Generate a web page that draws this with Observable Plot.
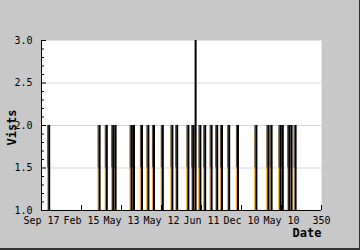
<!DOCTYPE html>
<html>
<head>
<meta charset="utf-8">
<script src="https://cdn.jsdelivr.net/npm/d3@7"></script>
<script src="https://cdn.jsdelivr.net/npm/@observablehq/plot@0.6"></script>
<style>
  html, body { margin: 0; padding: 0; background: #c8c8c8; }
  #chart { width: 360px; height: 250px; position: relative; box-sizing: border-box; border-right: 1px solid #333; border-bottom: 2px solid #333; overflow: hidden; }
</style>
</head>
<body>
<div id="chart"></div>
<script>
const spikeDays   = [9, 72, 81, 89, 92, 112, 115, 125, 133, 140, 151, 163, 169, 183, 189, 192, 198, 204, 212, 219, 225, 234, 245, 268, 283, 287, 298, 301, 309, 312, 317];
const spikeVisits = [2, 2, 2, 2, 2, 2, 2, 2, 2, 2, 2, 2, 2, 2, 2, 3, 2, 2, 2, 2, 2, 2, 2, 2, 2, 2, 2, 2, 2, 2, 2];
const xTicks = [0, 50, 100, 150, 200, 250, 300, 350];
const xTickLabels = ["Sep 17", "Feb 15", "May 13", "May 12", "Jun 11", "Dec 10", "May 10", "350"];
const yTicks = [1.0, 1.5, 2.0, 2.5, 3.0];
const yMinorTicks = [1.1, 1.2, 1.3, 1.4, 1.6, 1.7, 1.8, 1.9, 2.1, 2.2, 2.3, 2.4, 2.6, 2.7, 2.8, 2.9];
const yGrid = [1.5, 2.0, 2.5];

const data = spikeDays.map((d, i) => ({day: d, visits: spikeVisits[i]}));

const chart = Plot.plot({
  width: 359,
  height: 248,
  marginLeft: 41,
  marginRight: 38,
  marginTop: 40,
  marginBottom: 38,
  style: {background: "#c8c8c8", fontFamily: "DejaVu Sans Mono", fontSize: "10px", color: "#000"},
  x: {domain: [0, 350], label: null},
  y: {domain: [1, 3], label: null},
  marks: [
    Plot.frame({fill: "white", stroke: null}),
    Plot.ruleY(yGrid, {stroke: "#d8d8d8"}),
    Plot.ruleY([3], {stroke: "#e4e4e4"}),
    Plot.ruleX(data, {x: "day", y1: 1, y2: 1.5, stroke: "#f5a300", strokeWidth: 1.2, dx: -1}),
    Plot.ruleX(data, {x: "day", y1: 1.5, y2: 1.93, stroke: "#6a5020", strokeWidth: 1.2, dx: -1}),
    Plot.ruleX(data, {x: "day", y1: 1.93, y2: 2, stroke: "#555", strokeWidth: 1.2, dx: -1}),
    Plot.ruleX(data, {x: "day", y1: 1, y2: "visits", stroke: "#000", strokeWidth: 2, dx: 0.5}),
    Plot.ruleY([1], {stroke: "#000"}),
    Plot.ruleX([0], {stroke: "#000"}),
    Plot.axisY(yTicks, {tickSize: 0, tickPadding: 9, tickFormat: d3.format(".1f"), label: null}),
    Plot.axisY(yTicks, {tickSize: -5, text: null, label: null}),
    Plot.axisY(yMinorTicks, {tickSize: -3, text: null, label: null}),
    Plot.axisX(xTicks, {tickSize: -5, text: null, label: null}),
    Plot.axisX(xTicks, {tickSize: 0, tickPadding: 6, tickFormat: (d, i) => xTickLabels[i], label: null}),
    Plot.text(["Vists"], {frameAnchor: "left", dx: -29, dy: 2, rotate: -90, textAnchor: "middle", fontWeight: "bold", fontSize: 12}),
    Plot.text(["Date"], {frameAnchor: "bottom-right", dy: 26, dx: 0, textAnchor: "end", fontWeight: "bold", fontSize: 12})
  ]
});
document.getElementById("chart").appendChild(chart);
</script>
</body>
</html>
